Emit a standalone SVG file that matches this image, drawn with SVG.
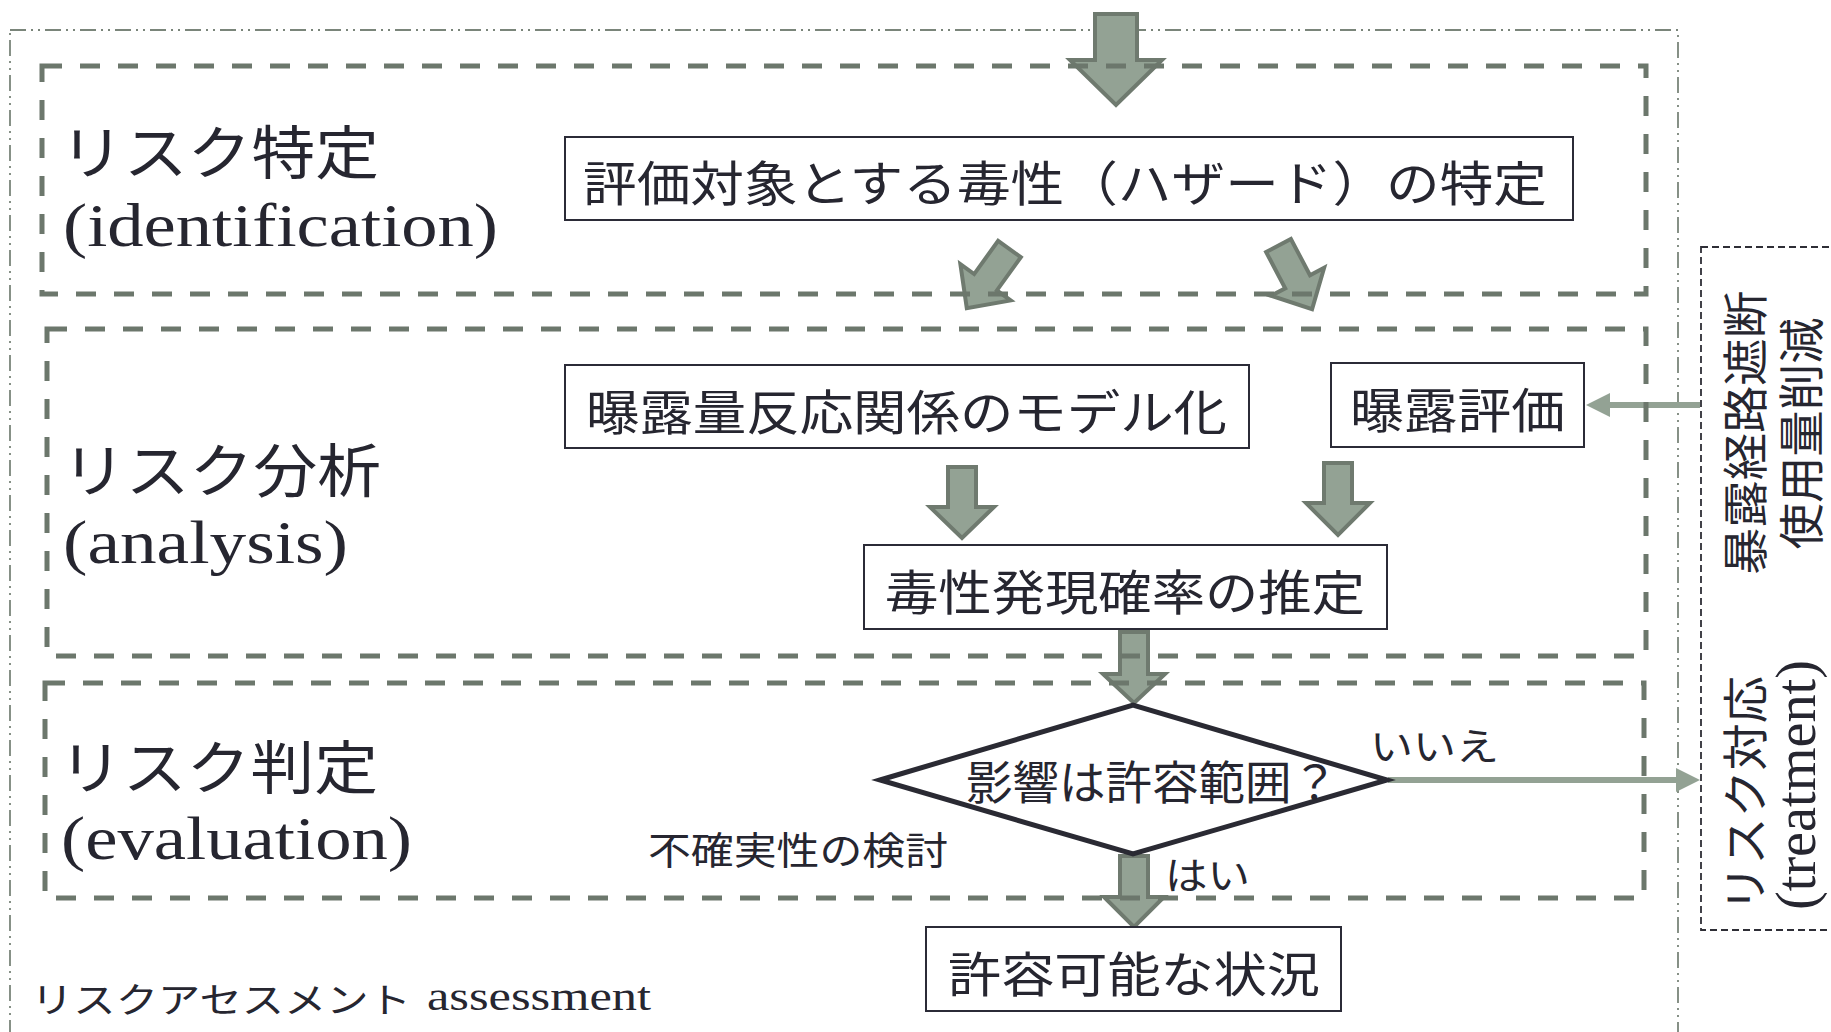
<svg xmlns="http://www.w3.org/2000/svg" width="1831" height="1032" viewBox="0 0 1831 1032">
<style>
.frame{fill:none;stroke:#6c776c;stroke-width:5;stroke-dasharray:20 18}
.outer{fill:none;stroke:#7a857a;stroke-width:1.8;stroke-dasharray:16 5 2 5 2 5}
.treat{fill:none;stroke:#2e2e36;stroke-width:1.8;stroke-dasharray:7 4}
.box{fill:#fff;stroke:#2b2b37;stroke-width:2}
.dia{fill:#fff;stroke:#2a2a33;stroke-width:5;stroke-linejoin:miter}
.blk{fill:#93a294;stroke:#6f7a6f;stroke-width:4;stroke-linejoin:miter}
.ln{fill:none;stroke:#93a294;stroke-width:6}
.jp{font-family:"Noto Sans CJK JP","Noto Sans",sans-serif;fill:#262630}
.c{dominant-baseline:central}
.m{text-anchor:middle}
.bx{font-size:48px}
.lab{font-size:58px}
.sm{font-size:38px}
.en{font-family:"Liberation Serif","DejaVu Serif",serif;fill:#262630}
</style>
<defs>
<marker id="ah" markerUnits="userSpaceOnUse" markerWidth="26" markerHeight="26" refX="14" refY="12" orient="auto">
<path d="M0,0 L24,12 L0,24 z" fill="#93a294"/>
</marker>
</defs>

<rect class="outer" x="10" y="30" width="1668" height="1040"/>
<rect class="treat" x="1701" y="247" width="200" height="683"/>

<g id="connectors">
<polygon class="blk" points="1095,14 1137,14 1137,60 1162,60 1116,105 1070,60 1095,60"/>
<polygon class="blk" transform="translate(1009.5,249) rotate(35.8)" points="-14,0 14,0 14,41 31,41 0,73 -31,41 -14,41"/>
<polygon class="blk" transform="translate(1278.5,245.5) rotate(-27.8)" points="-14,0 14,0 14,41 30,41 0,72 -30,41 -14,41"/>
<polygon class="blk" points="948,467 976,467 976,507 994,507 962,538 930,507 948,507"/>
<polygon class="blk" points="1324,463 1352,463 1352,503 1370,503 1338,535 1306,503 1324,503"/>
<polygon class="blk" points="1120,632 1148,632 1148,674 1165,674 1134,703 1103,674 1120,674"/>
<polygon class="blk" points="1120,856 1148,856 1148,897 1164,897 1134,927 1104,897 1120,897"/>
<line class="ln" x1="1700" y1="405" x2="1596" y2="405" marker-end="url(#ah)"/>
<line class="ln" x1="1388" y1="780" x2="1690" y2="780" marker-end="url(#ah)"/>
</g>

<g id="identification">
<rect class="frame" x="42" y="66" width="1604" height="228"/>
<text class="jp lab c" x="60" y="149" textLength="319" lengthAdjust="spacingAndGlyphs">リスク特定</text>
<text class="en" x="63" y="246" font-size="62" textLength="435" lengthAdjust="spacingAndGlyphs">(identification)</text>
</g>
<g id="analysis">
<rect class="frame" x="47" y="329" width="1599" height="327"/>
<text class="jp lab c" x="62" y="467" textLength="319" lengthAdjust="spacingAndGlyphs">リスク分析</text>
<text class="en" x="63" y="563" font-size="62" textLength="285" lengthAdjust="spacingAndGlyphs">(analysis)</text>
</g>
<g id="evaluation">
<rect class="frame" x="45" y="683" width="1599" height="215"/>
<text class="jp lab c" x="59" y="764" textLength="319" lengthAdjust="spacingAndGlyphs">リスク判定</text>
<text class="en" x="61" y="859" font-size="62" textLength="351" lengthAdjust="spacingAndGlyphs">(evaluation)</text>
</g>

<g id="hazard">
<rect class="box" x="565" y="137" width="1008" height="83"/>
<text class="jp bx c m" x="1065" y="180" textLength="964" lengthAdjust="spacingAndGlyphs">評価対象とする毒性（ハザード）の特定</text>
</g>
<g id="dose-response">
<rect class="box" x="565" y="365" width="684" height="83"/>
<text class="jp bx c m" x="906.5" y="409" textLength="641" lengthAdjust="spacingAndGlyphs">曝露量反応関係のモデル化</text>
</g>
<g id="exposure">
<rect class="box" x="1331" y="363" width="253" height="84"/>
<text class="jp bx c m" x="1457.5" y="407" textLength="215" lengthAdjust="spacingAndGlyphs">曝露評価</text>
</g>
<g id="probability">
<rect class="box" x="864" y="545" width="523" height="84"/>
<text class="jp bx c m" x="1125" y="589" textLength="480" lengthAdjust="spacingAndGlyphs">毒性発現確率の推定</text>
</g>
<g id="decision">
<polygon class="dia" points="880,780 1133,705 1387,780 1133,854"/>
<text class="jp c" x="966" y="779" font-size="46" textLength="372" lengthAdjust="spacingAndGlyphs">影響は許容範囲？</text>
</g>
<g id="acceptable">
<rect class="box" x="926" y="927" width="415" height="84"/>
<text class="jp bx c m" x="1134" y="971" textLength="372" lengthAdjust="spacingAndGlyphs">許容可能な状況</text>
</g>

<g id="labels">
<text class="jp sm c" x="1370" y="743" textLength="129" lengthAdjust="spacingAndGlyphs">いいえ</text>
<text class="jp sm c" x="1165" y="872" textLength="85" lengthAdjust="spacingAndGlyphs">はい</text>
<text class="jp sm c" x="648" y="847" textLength="300" lengthAdjust="spacingAndGlyphs">不確実性の検討</text>
<text class="jp c" x="31" y="997" font-size="35" textLength="380" lengthAdjust="spacingAndGlyphs">リスクアセスメント</text>
<text class="en" x="427" y="1010" font-size="40" textLength="224" lengthAdjust="spacingAndGlyphs">assessment</text>
</g>

<g id="treatment">
<text class="jp c m" transform="translate(1742,433) rotate(-90)" x="0" y="0" font-size="46" textLength="284" lengthAdjust="spacingAndGlyphs">暴露経路遮断</text>
<text class="jp c m" transform="translate(1798,433.5) rotate(-90)" x="0" y="0" font-size="46" textLength="232" lengthAdjust="spacingAndGlyphs">使用量削減</text>
<text class="jp c m" transform="translate(1742,794) rotate(-90)" x="0" y="0" font-size="46" textLength="236" lengthAdjust="spacingAndGlyphs">リスク対応</text>
<text class="en m" transform="translate(1815,785) rotate(-90)" x="0" y="0" font-size="56" textLength="250" lengthAdjust="spacingAndGlyphs">(treatment)</text>
</g>
</svg>
